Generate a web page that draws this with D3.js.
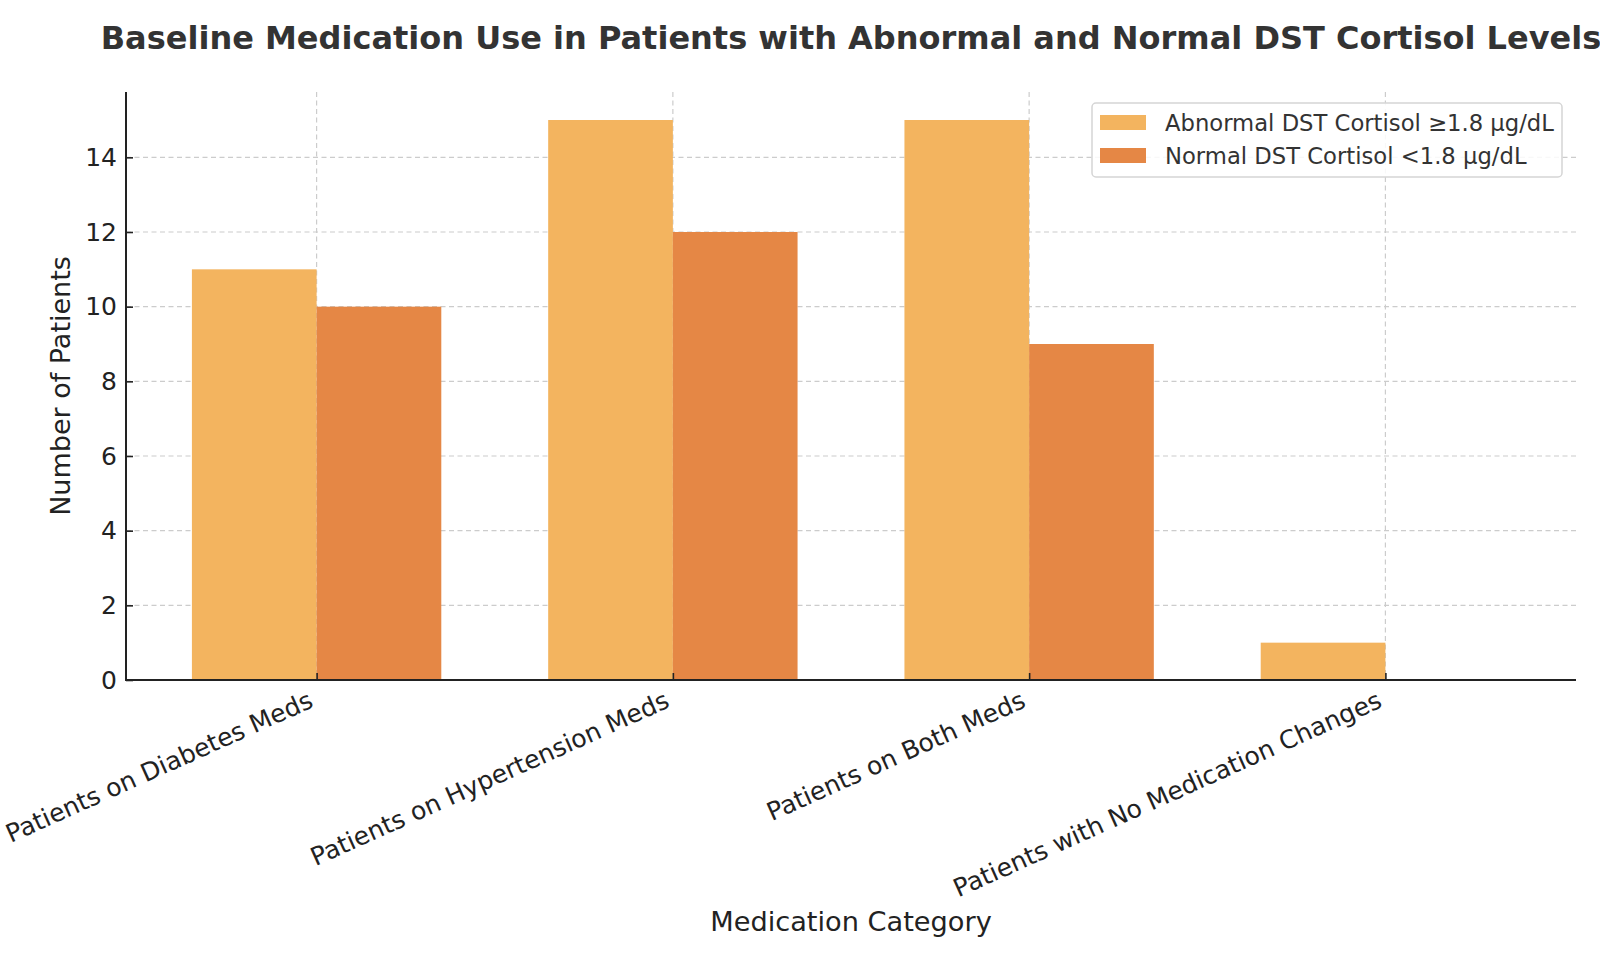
<!DOCTYPE html>
<html>
<head>
<meta charset="utf-8">
<script src="https://cdn.jsdelivr.net/npm/d3@7"></script>
<style>
  body { margin: 0; background: #fff; }
  text { font-family: "DejaVu Sans", sans-serif; }
</style>
</head>
<body>
<script>
var categories = ["Patients on Diabetes Meds", "Patients on Hypertension Meds", "Patients on Both Meds", "Patients with No Medication Changes"];
var abnormalValues = [11, 15, 15, 1];
var normalValues = [10, 12, 9, 0];
var seriesNames = ["Abnormal DST Cortisol \u22651.8 \u00b5g/dL", "Normal DST Cortisol <1.8 \u00b5g/dL"];
var seriesColors = ["#f3b45f", "#e58745"];
var yTicks = [0, 2, 4, 6, 8, 10, 12, 14];

var W = 1600, H = 960;
var mLeft = 126, mRight = 1576, mTop = 92, mBottom = 680;

var svg = d3.select("body").append("svg")
    .attr("width", W)
    .attr("height", H);

var barW = 0.35;
var x = d3.scaleLinear()
    .domain([-0.535, categories.length - 1 + 0.535])
    .range([mLeft, mRight]);
var y = d3.scaleLinear()
    .domain([0, 15.75])
    .range([mBottom, mTop]);

// grid
var grid = svg.append("g");
grid.selectAll("line.h")
    .data(yTicks)
    .enter().append("line")
    .attr("x1", mLeft).attr("x2", mRight)
    .attr("y1", function (d) { return y(d); })
    .attr("y2", function (d) { return y(d); })
    .attr("stroke", "#cccccc").attr("stroke-width", 1.2)
    .attr("stroke-dasharray", "5,3.5");
grid.selectAll("line.v")
    .data(categories)
    .enter().append("line")
    .attr("x1", function (d, i) { return x(i); })
    .attr("x2", function (d, i) { return x(i); })
    .attr("y1", mTop).attr("y2", mBottom)
    .attr("stroke", "#cccccc").attr("stroke-width", 1.2)
    .attr("stroke-dasharray", "5,3.5");

// bars
var series = [abnormalValues, normalValues];
series.forEach(function (vals, s) {
    svg.append("g").selectAll("rect")
        .data(vals)
        .enter().append("rect")
        .attr("x", function (d, i) { return x(i - barW + s * barW); })
        .attr("width", x(barW) - x(0))
        .attr("y", function (d) { return y(d); })
        .attr("height", function (d) { return y(0) - y(d); })
        .attr("fill", seriesColors[s]);
});

// axes (ticks point inward)
var yAxis = d3.axisLeft(y).tickValues(yTicks).tickSize(-7).tickPadding(9);
var gy = svg.append("g").attr("transform", "translate(" + mLeft + ",0)").call(yAxis);
gy.select(".domain").remove();
gy.selectAll(".tick line").attr("stroke", "#222").attr("stroke-width", 1.6);
gy.selectAll(".tick text").attr("font-size", 25).attr("fill", "#222")
    .attr("font-family", "DejaVu Sans");

var xAxis = d3.axisBottom(x).tickValues(d3.range(categories.length))
    .tickFormat(function (d) { return categories[d]; }).tickSize(-7);
var gx = svg.append("g").attr("transform", "translate(0," + mBottom + ")").call(xAxis);
gx.select(".domain").remove();
gx.selectAll(".tick line").attr("stroke", "#222").attr("stroke-width", 1.6);
gx.selectAll(".tick text")
    .attr("font-size", 25.1).attr("fill", "#222").attr("font-family", "DejaVu Sans")
    .attr("text-anchor", "end")
    .attr("dy", null)
    .attr("y", 0)
    .attr("transform", "translate(-2.5,26.5) rotate(-24.2)");

svg.append("line").attr("x1", mLeft).attr("x2", mLeft).attr("y1", mTop).attr("y2", mBottom)
    .attr("stroke", "#222").attr("stroke-width", 2);
svg.append("line").attr("x1", mLeft - 1).attr("x2", mRight).attr("y1", mBottom).attr("y2", mBottom)
    .attr("stroke", "#222").attr("stroke-width", 2);

// labels
svg.append("text")
    .attr("x", (mLeft + mRight) / 2).attr("y", 49)
    .attr("text-anchor", "middle")
    .attr("font-size", 32).attr("font-weight", "bold").attr("fill", "#333")
    .text("Baseline Medication Use in Patients with Abnormal and Normal DST Cortisol Levels");

svg.append("text")
    .attr("x", (mLeft + mRight) / 2).attr("y", 931)
    .attr("text-anchor", "middle")
    .attr("font-size", 27.2).attr("fill", "#222")
    .text("Medication Category");

svg.append("text")
    .attr("transform", "translate(70," + ((mTop + mBottom) / 2) + ") rotate(-90)")
    .attr("text-anchor", "middle")
    .attr("font-size", 27).attr("fill", "#222")
    .text("Number of Patients");

// legend
var lg = svg.append("g").attr("transform", "translate(1092,103)");
lg.append("rect").attr("width", 470).attr("height", 74).attr("rx", 4)
    .attr("fill", "#fff").attr("fill-opacity", 0.85)
    .attr("stroke", "#d5d5d5").attr("stroke-width", 1.5);
seriesNames.forEach(function (name, i) {
    lg.append("rect").attr("x", 8).attr("y", 12 + i * 33).attr("width", 46).attr("height", 15)
        .attr("fill", seriesColors[i]);
    lg.append("text").attr("x", 73).attr("y", 28 + i * 33)
        .attr("font-size", 22.7).attr("fill", "#333")
        .text(name);
});
</script>
</body>
</html>
